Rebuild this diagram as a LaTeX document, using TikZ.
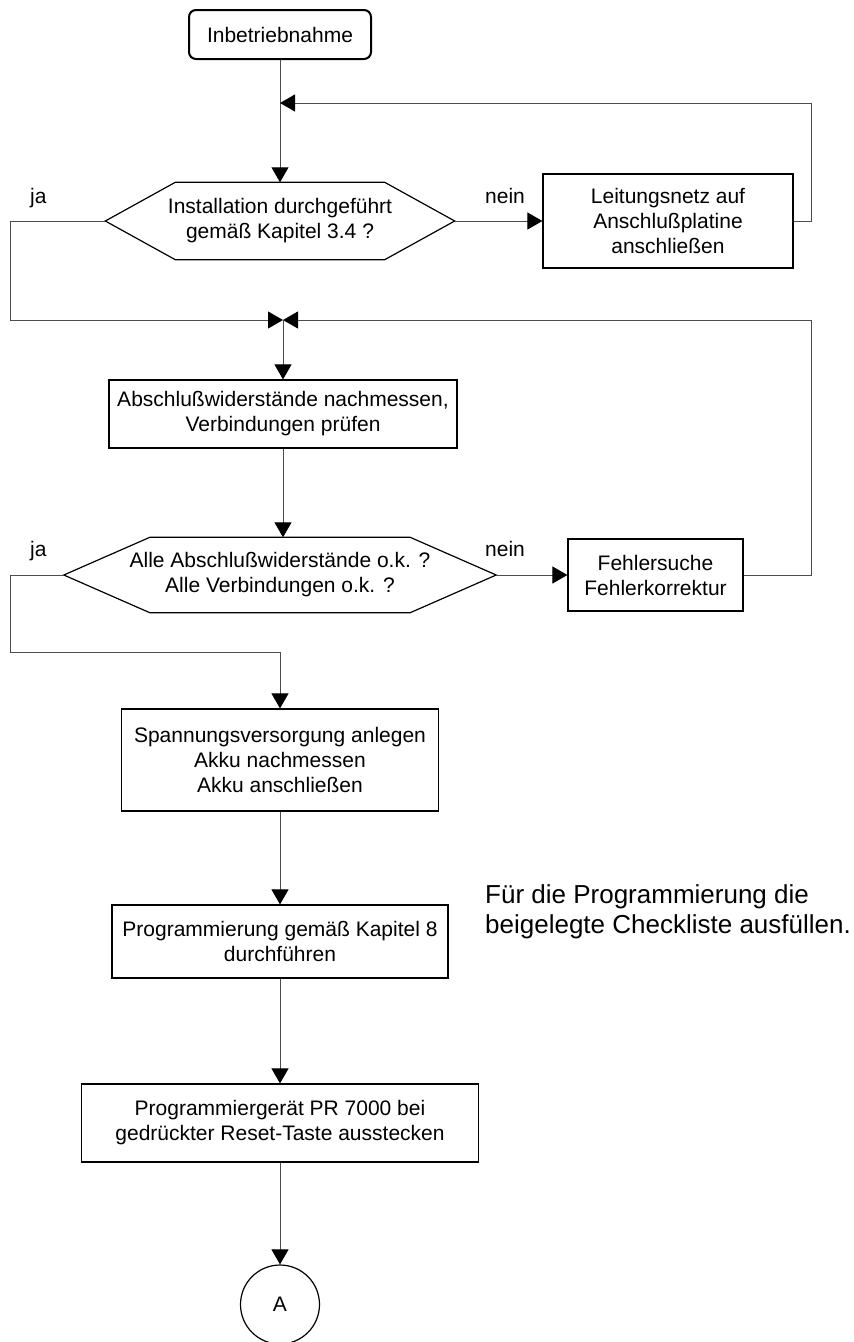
\documentclass[tikz,border=0pt]{standalone}
\usepackage{fontspec}
\setmainfont{Liberation Sans}
\usetikzlibrary{arrows.meta,calc}
\begin{document}
\begin{tikzpicture}[x=1pt,y=-1pt,
  every node/.style={font=\fontsize{21}{25}\selectfont, align=center, inner sep=0pt},
  box/.style={draw=black, line width=1.2pt, rectangle},
  startbox/.style={draw=black, line width=2pt, rectangle, rounded corners=7pt},
  hexline/.style={draw=black, line width=1.2pt},
  conn/.style={draw=black!70, line width=1pt},
  arr/.style={conn, -{Triangle[length=15pt,width=17pt,color=black]}},
  answer/.style={anchor=base west}]
\useasboundingbox (0,0) rectangle (854,1342);

% start
\node (start) [startbox, minimum width=182pt, minimum height=49pt] at (280,34.5) {Inbetriebnahme};

% first decision
\node (d1) [minimum width=349pt, minimum height=77pt] at (280,221) {Installation durchgeführt\\gemäß Kapitel 3.4 ?};
\draw[hexline] (d1.west) -- ($(d1.north west)+(70,0)$) -- ($(d1.north east)+(-70,0)$) -- (d1.east)
  -- ($(d1.south east)+(-70,0)$) -- ($(d1.south west)+(70,0)$) -- cycle;
\node (ja1) [answer] at (30,203) {ja};
\node (nein1) [answer] at (485,203) {nein};

\node (leit) [box, minimum width=250pt, minimum height=94pt] at (668,221) {Leitungsnetz auf\\Anschlußplatine\\anschließen};

% measuring step
\node (abs) [box, minimum width=348pt, minimum height=68pt] at (283,414) {Abschlußwiderstände nachmessen,\\Verbindungen prüfen};

% second decision
\node (d2) [minimum width=432pt, minimum height=75pt] at (280,575) {Alle Abschlußwiderstände o.k. ?\\Alle Verbindungen o.k. ?};
\draw[hexline] (d2.west) -- ($(d2.north west)+(86,0)$) -- ($(d2.north east)+(-86,0)$) -- (d2.east)
  -- ($(d2.south east)+(-86,0)$) -- ($(d2.south west)+(86,0)$) -- cycle;
\node (ja2) [answer] at (30,556) {ja};
\node (nein2) [answer] at (485,556) {nein};

\node (fehl) [box, minimum width=175pt, minimum height=72pt] at (655.5,575) {Fehlersuche\\Fehlerkorrektur};

% remaining steps
\node (spann) [box, minimum width=317pt, minimum height=102pt] at (280,760) {Spannungsversorgung anlegen\\Akku nachmessen\\Akku anschließen};
\node (prog) [box, minimum width=336pt, minimum height=73pt] at (280,941.5) {Programmierung gemäß Kapitel 8\\durchführen};
\node (note) [anchor=base west, align=left, font=\fontsize{26}{30}\selectfont] at (485,933) {Für die Programmierung die\\beigelegte Checkliste ausfüllen.};
\node (gerat) [box, minimum width=397pt, minimum height=78pt] at (280,1123) {Programmiergerät PR 7000 bei\\gedrückter Reset-Taste ausstecken};
\node (conA) [draw=black, line width=1.2pt, circle, minimum size=79pt] at (280,1304.5) {A};

% routing points
\coordinate (j1) at (280,103);
\coordinate (r1) at (811,103);
\coordinate (m2) at (283,320);
\coordinate (l1) at (10,320);
\coordinate (r2) at (811,320);
\coordinate (l2) at (10,652);
\coordinate (k2) at (280,652);

% connectors
\draw[arr] (start.south) -- (d1.north);
\draw[arr] (d1.east) -- (leit.west);
\draw[arr] (leit.east) -| (r1) -- (j1);
\draw[arr] (d1.west) -| (l1) -- (m2);
\draw[arr] (fehl.east) -| (r2) -- (m2);
\draw[arr] (m2) -- (abs.north);
\draw[arr] (abs.south) -- (abs.south |- d2.north);
\draw[arr] (d2.east) -- (fehl.west);
\draw[arr] (d2.west) -| (l2) -- (k2) -- (spann.north);
\draw[arr] (spann.south) -- (prog.north);
\draw[arr] (prog.south) -- (gerat.north);
\draw[arr] (gerat.south) -- (conA.north);
\end{tikzpicture}
\end{document}
